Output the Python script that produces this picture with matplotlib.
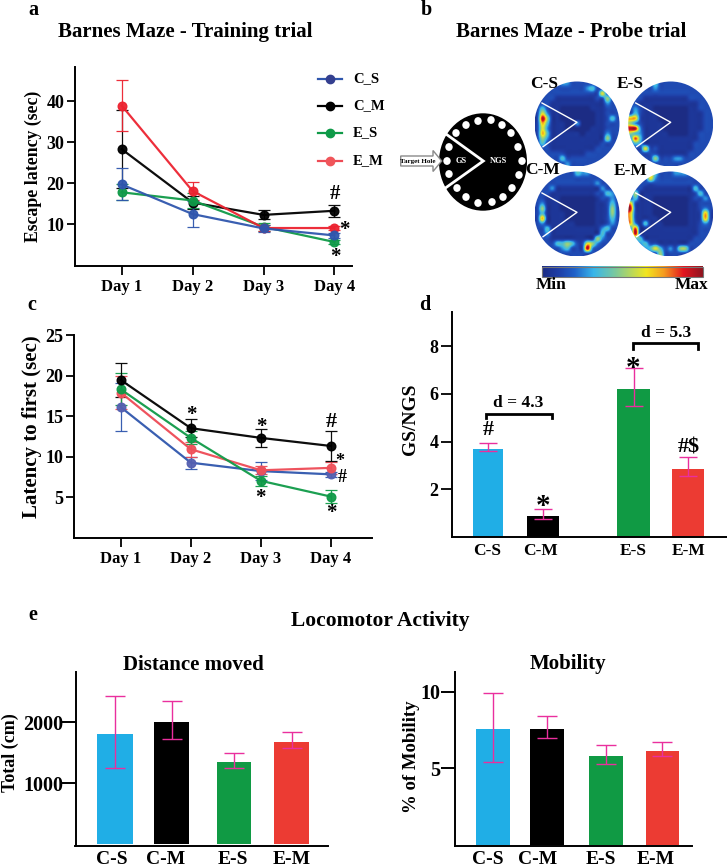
import numpy as np
import matplotlib
matplotlib.use("Agg")
import matplotlib.pyplot as plt
from matplotlib.colors import LinearSegmentedColormap
from matplotlib.patches import Circle, Ellipse, Polygon, Rectangle

W, H = 727, 867
plt.rcParams['font.family'] = ['Liberation Serif', 'DejaVu Sans']
plt.rcParams['font.weight'] = 'bold'

days = ["Day 1", "Day 2", "Day 3", "Day 4"]
groups = ["C_S", "C_M", "E_S", "E_M"]
bar_labels = ["C-S", "C-M", "E-S", "E-M"]

# panel a
a_cs = [19.7, 12.5, 9.0, 7.3]; a_cs_lo = [15.9, 9.3, 8.2, 6.6]; a_cs_hi = [23.6, 15.7, 9.8, 8.0]
a_cm = [28.3, 15.3, 12.3, 13.3]; a_cm_lo = [18.8, 13.8, 11.2, 11.8]; a_cm_hi = [37.8, 16.8, 13.4, 14.8]
a_es = [17.8, 15.8, 9.4, 5.7]; a_es_lo = [15.9, 14.0, 8.4, 5.2]; a_es_hi = [19.7, 17.6, 10.4, 6.2]
a_em = [38.9, 18.1, 9.1, 9.1]; a_em_lo = [32.7, 16.0, 8.4, 8.6]; a_em_hi = [45.2, 20.2, 9.8, 9.6]
# panel c
c_cs = [16.1, 9.24, 8.2, 7.8]; c_cs_lo = [13.1, 8.5, 7.1, 7.5]; c_cs_hi = [19.1, 9.9, 9.3, 8.1]
c_cm = [19.45, 13.5, 12.3, 11.3]; c_cm_lo = [17.4, 12.4, 11.2, 9.4]; c_cm_hi = [21.5, 14.6, 13.4, 13.2]
c_es = [18.3, 12.3, 7.0, 5.05]; c_es_lo = [16.3, 11.5, 6.4, 4.25]; c_es_hi = [20.3, 13.1, 7.6, 5.87]
c_em = [17.9, 10.9, 8.3, 8.6]; c_em_lo = [15.9, 10.0, 7.8, 7.9]; c_em_hi = [19.9, 11.8, 8.8, 9.3]
# panel d
d_vals = [3.68, 0.88, 6.2, 2.87]; d_lo = [3.59, 0.74, 5.48, 2.57]; d_hi = [3.96, 1.19, 7.09, 3.35]
# panel e
dist_vals = [1810, 2005, 1345, 1672]; dist_lo = [1245, 1730, 1250, 1574]; dist_hi = [2430, 2350, 1497, 1842]
mob_vals = [7.58, 7.6, 5.82, 6.13]; mob_lo = [5.45, 7.0, 5.32, 5.84]; mob_hi = [9.91, 8.4, 6.54, 6.69]

# occupancy heat maps read by eye on a coarse grid (0 = min, 9 = max)
heat_cs = ["22222332222222222", "22222222223422222", "22222222222226222", "22221111111122522",
           "22211111111111322", "24211000000111222", "26311000000011222", "29511000000011242",
           "27411100300011222", "26311100000111222", "27411111101111322", "25311111111111522",
           "24211111111112222", "22211111111122222", "22222211112222222", "22222422222222222",
           "22222232222222222"]
heat_es = ["22222422222222222", "22222322222222222", "22222222222222222", "22211111111122222",
           "22111111111111222", "23211000000011222", "24211100000011122", "77211100000011122",
           "53211110000011122", "99311110000011122", "54311111000011222", "38411111111111222",
           "24311111111112222", "22262211111112222", "22222211111122222", "22222522233222222",
           "22222222222222222"]
heat_cm = ["22222222433222222", "22222222222222222", "22222222222232222", "22231111111113222",
           "22211111111122432", "22111000000012232", "23111000000011242", "25111000000011252",
           "24111100000011252", "27111100000011242", "23111111000011232", "22411111111113422",
           "22311111111114222", "22211111111153222", "22224454226532222", "22222342229322222",
           "22222222222222222"]
heat_em = ["22226422233322222", "22226322222222222", "22222222222222222", "22211111111114222",
           "25111111111112422", "24111000000012232", "72111000000011222", "92111000000011232",
           "72111000000011272", "72111100000011272", "73141110000011232", "38111111111111222",
           "29111111111111222", "24411111111112222", "22342211111122222", "22234642325522222",
           "22222252222222222"]
heat_names = ["C-S", "E-S", "C-M", "E-M"]
heat_levels = [0.0, 0.06, 0.14, 0.27, 0.37, 0.5, 0.62, 0.72, 0.84, 0.95]

# schematic hole layout, pixels
hole_x = [478, 491, 502, 511, 518, 522, 519, 512, 503, 492, 478, 466, 457, 449, 447, 449, 456, 466]
hole_y = [121, 120, 125, 133, 147, 161, 175, 188, 197, 202, 203, 197, 188, 174, 161, 147, 133, 125]

BLUE, BLACK, GREEN, RED = '#2f56ad', '#000000', '#0f9a48', '#ec2330'
BAR = ['#20aee6', '#000000', '#109a44', '#ec3b33']
PINK = '#ea2f9e'

fig = plt.figure(figsize=(W / 100, H / 100), dpi=100, facecolor='white')


def axpx(l, t, r, b):
    return fig.add_axes([l / W, 1 - b / H, (r - l) / W, (b - t) / H])


def style(ax, lw=1.4):
    for s in ('top', 'right'):
        ax.spines[s].set_visible(False)
    for s in ('left', 'bottom'):
        ax.spines[s].set_linewidth(lw)


def lines(ax, series, markers):
    for (v, lo, hi, col), mc in zip(series, markers):
        v, lo, hi = map(np.array, (v, lo, hi))
        x = np.arange(len(v))
        ax.errorbar(x, v, yerr=[v - lo, hi - v], color=col, lw=1.6, marker='o', ms=6.2, mfc=mc, mec=mc,
                    ecolor=col, elinewidth=0.9, capsize=4.4, capthick=0.9, alpha=0.95)
    ax.set_xticks(range(4), days, fontsize=12)
    ax.tick_params(axis='x', length=6.5, width=1.3, pad=3)
    ax.tick_params(axis='y', length=6, width=1.3, labelsize=13, pad=1.5)
    style(ax)


def lim(l, r, p0, dp):
    return (l - p0) / dp, (r - p0) / dp


# panel a
ax = axpx(75, 67, 352, 265.7)
lines(ax, [(a_cm, a_cm_lo, a_cm_hi, BLACK), (a_es, a_es_lo, a_es_hi, GREEN), (a_em, a_em_lo, a_em_hi, RED),
           (a_cs, a_cs_lo, a_cs_hi, BLUE)], [BLACK, GREEN, RED, BLUE])
ax.set_xlim(*lim(75, 352, 121.7, 70.9))
ax.set_ylim(-0.07, 48.3)
ax.set_yticks([10, 20, 30, 40])

# panel c
ax = axpx(74, 335, 372, 537.7)
lines(ax, [(c_cs, c_cs_lo, c_cs_hi, BLUE), (c_em, c_em_lo, c_em_hi, '#ee4a55'), (c_es, c_es_lo, c_es_hi, GREEN),
           (c_cm, c_cm_lo, c_cm_hi, BLACK)], ['#5560b0', '#f0505a', GREEN, BLACK])
ax.set_xlim(*lim(74, 372, 120.7, 70.1))
ax.set_ylim(-0.02, 25)
ax.set_yticks([5, 10, 15, 20, 25])


def bars(ax, centers, widths, vals, lo, hi, capsize):
    vals, lo, hi = map(np.array, (vals, lo, hi))
    ax.bar(centers, vals, width=widths, color=BAR, edgecolor='none')
    ax.errorbar(centers, vals, yerr=[vals - lo, hi - vals], fmt='none', ecolor=PINK, elinewidth=1.0,
                capsize=capsize, capthick=1.0)
    ax.set_xticks([])
    style(ax)


# panel d
ax = axpx(452.3, 311.7, 726.5, 537.3)
bars(ax, [487.7, 543.3, 633.7, 688], [30, 32, 32.6, 32.6], d_vals, d_lo, d_hi, 6.8)
ax.set_xlim(452.3, 726.5)
ax.set_ylim(-0.01, 9.44)
ax.set_yticks([2, 4, 6, 8])
ax.tick_params(axis='y', length=8, width=1.3, labelsize=13, pad=2)
ax.plot([486, 486, 551.7, 551.7], [4.98, 5.17, 5.17, 4.98], color='k', lw=2.0, solid_joinstyle='miter')
ax.plot([632.7, 632.7, 697.7, 697.7], [7.87, 8.11, 8.11, 7.87], color='k', lw=2.0, solid_joinstyle='miter')

# panel e
ax = axpx(75.5, 671.7, 328.5, 845.7)
bars(ax, [115.1, 171.7, 234, 292], [35.4, 35, 34.5, 35], dist_vals, dist_lo, dist_hi, 7)
ax.set_xlim(75.5, 328.5)
ax.set_ylim(-23, 2829)
ax.set_yticks([1000, 2000])
ax.tick_params(axis='y', length=10, width=1.4, labelsize=14.5, pad=-1)

ax = axpx(455.3, 671.7, 692, 845.7)
bars(ax, [492.8, 547.1, 606.2, 662], [34, 33.6, 33.5, 33], mob_vals, mob_lo, mob_hi, 7)
ax.set_xlim(455.3, 692)
ax.set_ylim(-0.03, 11.3)
ax.set_yticks([5, 10])
ax.tick_params(axis='y', length=10, width=1.4, labelsize=14.5, pad=1)

# canvas in pixel coordinates for panel b and free text
cv = fig.add_axes([0, 0, 1, 1], zorder=5)
cv.patch.set_alpha(0)
cv.axis('off')


def T(x, y, s, size=12, color='k', rot=0, **kw):
    cv.text(x, y, s, fontsize=size, color=color, rotation=rot, ha='center', va='center', **kw)


heat_cmap = LinearSegmentedColormap.from_list('heat', [
    (0.0, '#1c2c84'), (0.1, '#1f3ea6'), (0.2, '#2060c8'), (0.32, '#38b6ea'), (0.45, '#78c8a0'),
    (0.65, '#f2e61e'), (0.76, '#f59a20'), (0.88, '#e3141e'), (1.0, '#8e1420')])

centers = [(577, 124), (670.7, 124), (577, 214), (670.7, 214)]
maps = [heat_cs, heat_es, heat_cm, heat_em]
R = 42.5
for (cx, cy), m in zip(centers, maps):
    arr = np.array([[heat_levels[int(ch)] for ch in row] for row in m])
    im = cv.imshow(arr, cmap=heat_cmap, vmin=0, vmax=1, interpolation='catrom', interpolation_stage='data',
                   aspect='auto', extent=(cx - R, cx + R, cy + R, cy - R))
    im.set_clip_path(Circle((cx, cy), R, transform=cv.transData))
    cv.plot([cx - 35, cx, cx - 34], [cy - 21, cy - 1.7, cy + 22.7], color='white', lw=1.0)
for (x, y), n in zip([(544, 84), (630.7, 84), (543, 170), (630.7, 170.7)], heat_names):
    T(x, y, n, 12.5)

# colour bar
grad = np.linspace(0, 1, 256)[None, :]
cv.imshow(grad, cmap=heat_cmap, aspect='auto', extent=(542.3, 703.3, 277.3, 266.7))
cv.add_patch(Rectangle((542.3, 266.7), 161, 10.6, fill=False, ec='#777777', lw=0.8))
T(551, 285, "Min", 12.5)
T(692, 285, "Max", 12.5)

# maze schematic
cv.add_patch(Ellipse((483, 162), 88, 97.4, fc='k', ec='none'))
for hx, hy in zip(hole_x, hole_y):
    cv.add_patch(Ellipse((hx, hy), 7.4, 7.8, fc='white', ec='none'))
cv.plot([445, 483.3, 445], [133.3, 161, 188.3], color='white', lw=2.0, solid_joinstyle='miter')
cv.add_patch(Polygon([(400.7, 156), (433, 156), (433, 150.5), (441.7, 161), (433, 171.5), (433, 166), (400.7, 166)],
                     fc='white', ec='#8a8a8a', lw=1.0))
T(418, 161, "Target Hole", 5)
T(461, 161, "GS", 6, color='white')
T(498, 161, "NGS", 6, color='white')

# titles and panel letters
for x, y, s in [(33, 10, 'a'), (426, 10, 'b'), (32, 305, 'c'), (425, 305, 'd'), (33, 615, 'e')]:
    T(x, y, s, 14.5)
T(185, 32, "Barnes Maze - Training trial", 15)
T(571, 32, "Barnes Maze - Probe trial", 15)
T(380, 621, "Locomotor Activity", 15.5)
T(193, 665, "Distance moved", 15)
T(568, 664, "Mobility", 15)

# y labels
T(33, 166, "Escape latency (sec)", 12.8, rot=90)
T(32, 427, "Latency to first (sec)", 15, rot=90)
T(411, 419, "GS/NGS", 14, rot=90)
T(10, 753, "Total (cm)", 13, rot=90)
T(412, 757, "% of Mobility", 13.5, rot=90)

# bar labels
for x, s in zip([487, 541, 633, 689], bar_labels):
    T(x, 551, s, 12.5)
for x, s in zip([112, 166, 233, 291.5], bar_labels):
    T(x, 860, s, 14)
for x, s in zip([488, 538, 601, 656], bar_labels):
    T(x, 860, s, 14)

# legend
for y, g, c, mc in zip([79, 106, 133, 161], groups, [BLUE, BLACK, GREEN, '#ee4a55'], ['#343f8f', BLACK, GREEN, '#f0555a']):
    cv.plot([318, 342], [y, y], color=c, lw=1.6)
    cv.plot([330], [y], 'o', color=mc, ms=6)
    cv.text(353, y, g, fontsize=10.5, ha='left', va='center')

# significance marks
stars = [(335, 194, '#', 15), (344, 230, '*', 15), (335, 257, '*', 15),
         (191, 415, '*', 15), (261, 427, '*', 15), (331, 422, '#', 16), (340, 462, '*', 13), (342, 478, '#', 13),
         (260.7, 498, '*', 15), (331, 513, '*', 15),
         (488, 430, '#', 16), (633, 368, '*', 21), (542.7, 507, '*', 21), (689, 447, '#$', 16)]
for x, y, s, size in stars:
    T(x, y, s, size)
T(518, 402.7, "d = 4.3", 12.5)
T(666, 332.7, "d = 5.3", 12.5)

cv.set_xlim(0, W)
cv.set_ylim(H, 0)

fig.savefig('out.png', dpi=100)
